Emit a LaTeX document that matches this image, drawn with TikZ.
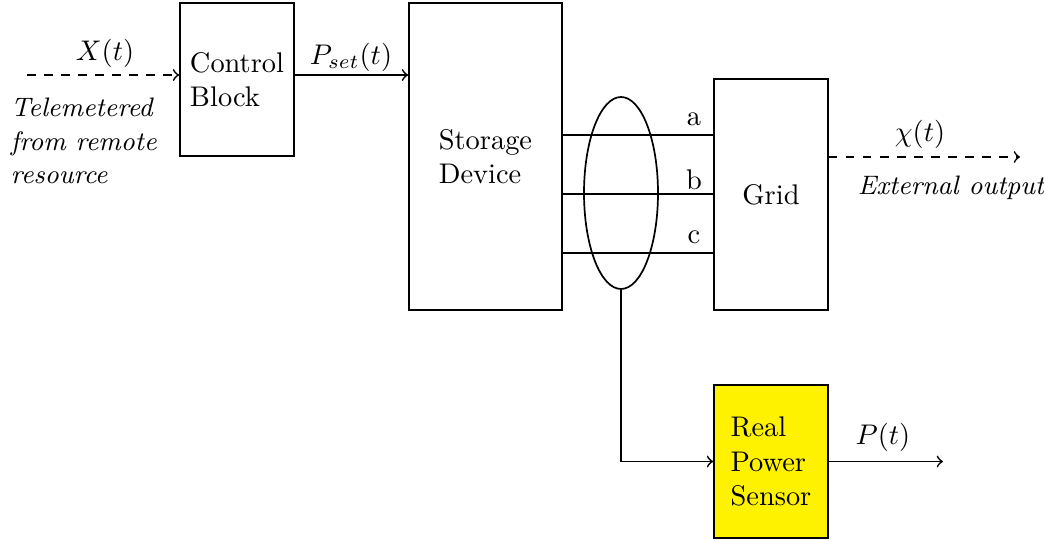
\documentclass[tikz,border=0pt]{standalone}
\usetikzlibrary{shapes.geometric}
\begin{document}
\begin{tikzpicture}[x=0.352pt,y=-0.352pt, semithick,
  blockbox/.style={draw, rectangle, inner sep=0pt, align=left},
  lbl/.style={inner sep=0pt},
  itlbl/.style={inner sep=0pt, font=\fontsize{9.4pt}{11.8pt}\selectfont\itshape}]
\useasboundingbox (0,0) rectangle (1044,541);
% blocks
\node[blockbox, minimum width=114*0.352pt, minimum height=153*0.352pt] (ctrl) at (237,79.5) {Control\\Block};
\node[blockbox, minimum width=153*0.352pt, minimum height=307*0.352pt] (stor) at (485.5,156.5) {Storage\\Device};
\node[blockbox, minimum width=114*0.352pt, minimum height=231*0.352pt] (grid) at (771,194.5) {Grid};
\node[blockbox, fill=yellow, minimum width=114*0.352pt, minimum height=153*0.352pt] (sens) at (771,461.5) {Real\\Power\\Sensor};
% phase lines
\draw (stor.east |- 0,135) -- (grid.west |- 0,135);
\draw (stor.east |- 0,194) -- (grid.west |- 0,194);
\draw (stor.east |- 0,253) -- (grid.west |- 0,253);
\node[lbl] (la) at (694,119) {a};
\node[lbl] (lb) at (694,180) {b};
\node[lbl] (lc) at (694,237) {c};
% ellipse
\node[draw, ellipse, minimum width=74*0.352pt, minimum height=192*0.352pt, inner sep=0pt] (ell) at (621,193) {};
% input
\coordinate (xs) at (27,75);
\draw[dashed,->] (xs) -- (xs -| ctrl.west);
\node[lbl] (xl) at (105,53) {$X(t)$};
\node[itlbl, anchor=west, align=left] (tel) at (10,141) {Telemetered\\from remote\\resource};
% Pset
\coordinate (pa) at (294,75);
\draw[->] (pa -| ctrl.east) -- (pa -| stor.west);
\node[lbl] (pl) at (351,57) {$P_{set}(t)$};
% chi
\coordinate (chiend) at (1020,157);
\draw[dashed,->] (grid.east |- chiend) -- (chiend);
\node[lbl] (chil) at (920,134) {$\chi(t)$};
\node[itlbl] (extl) at (951,188) {External output};
% sensor
\draw[->] (ell.south) |- (sens.west);
\coordinate (pend) at (943,461.5);
\draw[->] (sens.east) -- (pend);
\node[lbl] (ptl) at (883,437) {$P(t)$};
\end{tikzpicture}
\end{document}
